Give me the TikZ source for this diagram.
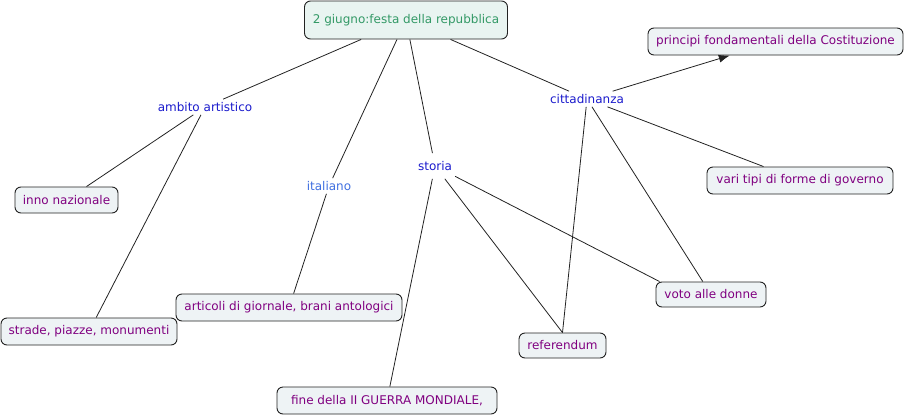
\documentclass[tikz,border=0pt]{standalone}
\usepackage{fontspec}
\setmainfont{DejaVu Sans}
\usetikzlibrary{arrows.meta}
\definecolor{boxfill}{HTML}{EEF3F5}
\definecolor{topfill}{HTML}{E9F4F1}
\definecolor{boxtext}{HTML}{800080}
\definecolor{toptext}{HTML}{339966}
\definecolor{lblblue}{HTML}{1A1ACC}
\definecolor{lbllight}{HTML}{3F6FE0}
\definecolor{edge}{HTML}{222222}
\tikzset{
  concept/.style={draw=edge, line width=0.9pt, rounded corners=6pt, fill=boxfill,
    text=boxtext, font=\fontsize{12}{14}\selectfont, inner sep=0pt, align=center},
  linklbl/.style={text=lblblue, font=\fontsize{12}{14}\selectfont, inner sep=3pt},
  conn/.style={draw=edge, line width=0.8pt},
}
\begin{document}
\begin{tikzpicture}[x=1pt,y=-1pt]
\useasboundingbox (0,0) rectangle (905,418);
% concepts
\node[concept, fill=topfill, text=toptext, minimum width=203pt, minimum height=38pt] (top) at (406,20) {2 giugno:festa della repubblica};
\node[concept, minimum width=255pt, minimum height=27pt] (princ) at (775.5,41.5) {principi fondamentali della Costituzione};
\node[concept, minimum width=103pt, minimum height=26pt] (inno) at (66.5,200) {inno nazionale};
\node[concept, minimum width=186pt, minimum height=27pt] (vari) at (800,180.5) {vari tipi di forme di governo};
\node[concept, minimum width=176pt, minimum height=27pt] (strade) at (89,331.5) {strade, piazze, monumenti};
\node[concept, minimum width=226pt, minimum height=27pt] (artic) at (289,307.5) {articoli di giornale, brani antologici};
\node[concept, minimum width=220pt, minimum height=27pt] (fine) at (387,400.5) {fine della II GUERRA MONDIALE,};
\node[concept, minimum width=110pt, minimum height=25pt] (voto) at (711,294.5) {voto alle donne};
\node[concept, minimum width=87pt, minimum height=25pt] (ref) at (562.5,345.5) {referendum};
% link labels
\node[linklbl] (ambito) at (205,107) {ambito artistico};
\node[linklbl, text=lbllight] (ital) at (329,186) {italiano};
\node[linklbl, inner ysep=8pt, inner xsep=3pt] (storia) at (435,166) {storia};
\node[linklbl] (citt) at (587,99) {cittadinanza};
% connectors
\draw[conn] (top) -- (ambito);
\draw[conn] (top) -- (ital);
\draw[conn] (top) -- (storia);
\draw[conn] (top) -- (citt);
\draw[conn] (ambito) -- (inno);
\draw[conn] (ambito) -- (strade);
\draw[conn] (ital) -- (artic);
\draw[conn] (storia) -- (fine);
\draw[conn] (storia) -- (ref.north);
\draw[conn] (storia) -- ([xshift=4pt]voto.north west);
\draw[conn, -{Latex[length=11pt,width=8pt]}] (citt) -- (princ);
\draw[conn] (citt) -- (vari);
\draw[conn] (citt) -- (voto);
\draw[conn] (citt) -- (ref.north);
\end{tikzpicture}
\end{document}
